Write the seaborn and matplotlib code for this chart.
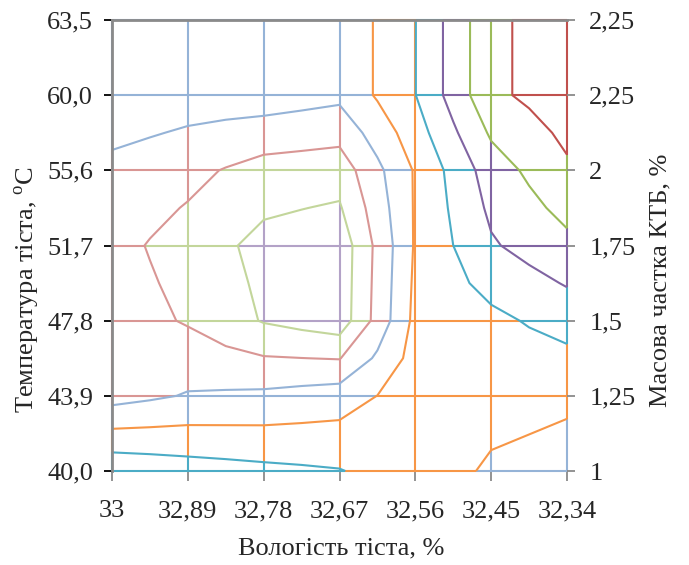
import numpy as np
import pandas as pd
import matplotlib
matplotlib.use("Agg")
import matplotlib.pyplot as plt
import seaborn as sns

# Підписи осей
x_labels = ["33", "32,89", "32,78", "32,67", "32,56", "32,45", "32,34"]
y_labels = ["40,0", "43,9", "47,8", "51,7", "55,6", "60,0", "63,5"]
y2_labels = ["1", "1,25", "1,5", "1,75", "2", "2,25", "2,25"]

# Значення поверхні (умовні одиниці рівня), рядки знизу вгору
z_40_0 = [3.21, 3.54, 3.76, 3.95, 4.60, 5.10, 5.25]
z_43_9 = [6.40, 5.93, 5.80, 5.50, 4.48, 4.74, 4.89]
z_47_8 = [6.50, 7.09, 8.07, 8.59, 4.73, 4.24, 3.60]
z_51_7 = [6.70, 7.40, 8.31, 8.64, 4.89, 3.11, 2.25]
z_55_6 = [6.30, 6.72, 7.40, 7.56, 4.90, 2.50, 1.15]
z_60_0 = [5.19, 5.50, 5.47, 5.77, 4.02, 1.22, 0.43]
z_63_5 = [5.19, 5.50, 5.47, 5.77, 4.02, 1.22, 0.43]

levels = [1, 2, 3, 4, 5, 6, 7, 8]
band_colors = ["#C0504D", "#9BBB59", "#8064A2", "#4BACC6", "#F79646",
               "#95B3D7", "#D99694", "#C3D69B", "#B3A2C7"]

sns.set_theme(style="white")
plt.rcParams['font.family'] = ['Liberation Serif', 'DejaVu Serif']
plt.rcParams['mathtext.fontset'] = 'custom'
plt.rcParams['mathtext.rm'] = 'Liberation Serif'

Z = np.array([z_40_0, z_43_9, z_47_8, z_51_7, z_55_6, z_60_0, z_63_5])
n = Z.shape[0]


def band_of(v):
    return int(np.searchsorted(levels, v, side='right'))


# Сітка: кожне ребро ділиться в точках перетину рівнів і фарбується кольором смуги
rows = []
seg = 0


def add_edge(x0, y0, x1, y1, z0, z1):
    global seg
    ts = [0.0, 1.0]
    for lv in levels:
        if (z0 - lv) * (z1 - lv) < 0:
            ts.append((lv - z0) / (z1 - z0))
    ts = sorted(ts)
    for a, b in zip(ts[:-1], ts[1:]):
        zm = z0 + (z1 - z0) * (a + b) / 2
        bd = band_of(zm)
        for t in (a, b):
            rows.append({'seg': seg, 'x': x0 + (x1 - x0) * t,
                         'y': y0 + (y1 - y0) * t, 'band': bd})
        seg += 1


for i in range(n):
    for j in range(n - 1):
        add_edge(j, i, j + 1, i, Z[i, j], Z[i, j + 1])
        add_edge(i, j, i, j + 1, Z[j, i], Z[j + 1, i])

grid_df = pd.DataFrame(rows)

# Подрібнення клітинок навпіл (як у контурній діаграмі Excel)
m = 2 * n - 1
Zf = np.zeros((m, m))
Zf[::2, ::2] = Z
Zf[1::2, ::2] = (Z[:-1, :] + Z[1:, :]) / 2
Zf[::2, 1::2] = (Z[:, :-1] + Z[:, 1:]) / 2
Zf[1::2, 1::2] = (Z[:-1, :-1] + Z[1:, :-1] + Z[:-1, 1:] + Z[1:, 1:]) / 4
xf = np.arange(m) / 2

fig = plt.figure(figsize=(6.89, 5.65), dpi=100)
ax = fig.add_axes([112 / 689, 1 - 471 / 565, 455 / 689, 451 / 565])

sns.lineplot(data=grid_df, x='x', y='y', units='seg', hue='band',
             palette={k: c for k, c in enumerate(band_colors)},
             estimator=None, sort=False, legend=False, linewidth=1.5, ax=ax)
for ln in ax.lines:
    ln.set_clip_on(False)
    ln.set_solid_capstyle('butt')

cs = ax.contour(xf, xf, Zf, levels=levels, colors=band_colors[:8],
                linewidths=1.5, zorder=2.2)
cs.set_clip_on(False)

ax.set_xlim(0, 6)
ax.set_ylim(0, 6)
ax.set_xticks(range(n))
ax.set_xticklabels(x_labels, fontsize=19)
ax.set_yticks(range(n))
ax.set_yticklabels(y_labels, fontsize=19)
ax.set_xlabel('')
ax.set_ylabel('')
ax.tick_params(axis='y', direction='inout', length=11, width=1.3,
               color='black', pad=8, left=True)
ax.tick_params(axis='x', direction='out', length=7, width=1.3,
               color='#8a8a8a', pad=14, bottom=True)
for side in ['bottom', 'right']:
    ax.spines[side].set_visible(False)
for side in ['left', 'top']:
    ax.spines[side].set_color('#8a8a8a')
    ax.spines[side].set_linewidth(2)

ax2 = ax.twinx()
ax2.set_ylim(0, 6)
ax2.set_yticks(range(n))
ax2.set_yticklabels(y2_labels, fontsize=19)
ax2.tick_params(axis='y', direction='out', length=6, width=1.3,
                color='#8a8a8a', pad=10, right=True)
for side in ax2.spines:
    ax2.spines[side].set_visible(False)

fig.text(27 / 689, 1 - 290 / 565, 'Температура тіста, $^{\\mathrm{o}}$С',
         rotation=90, ha='center', va='center', fontsize=19)
fig.text(341 / 689, 1 - 548 / 565, 'Вологість тіста, %',
         ha='center', va='center', fontsize=19)
fig.text(660 / 689, 1 - 280 / 565, 'Масова частка КТБ, %',
         rotation=90, ha='center', va='center', fontsize=19)

fig.savefig('out.png', dpi=100)
